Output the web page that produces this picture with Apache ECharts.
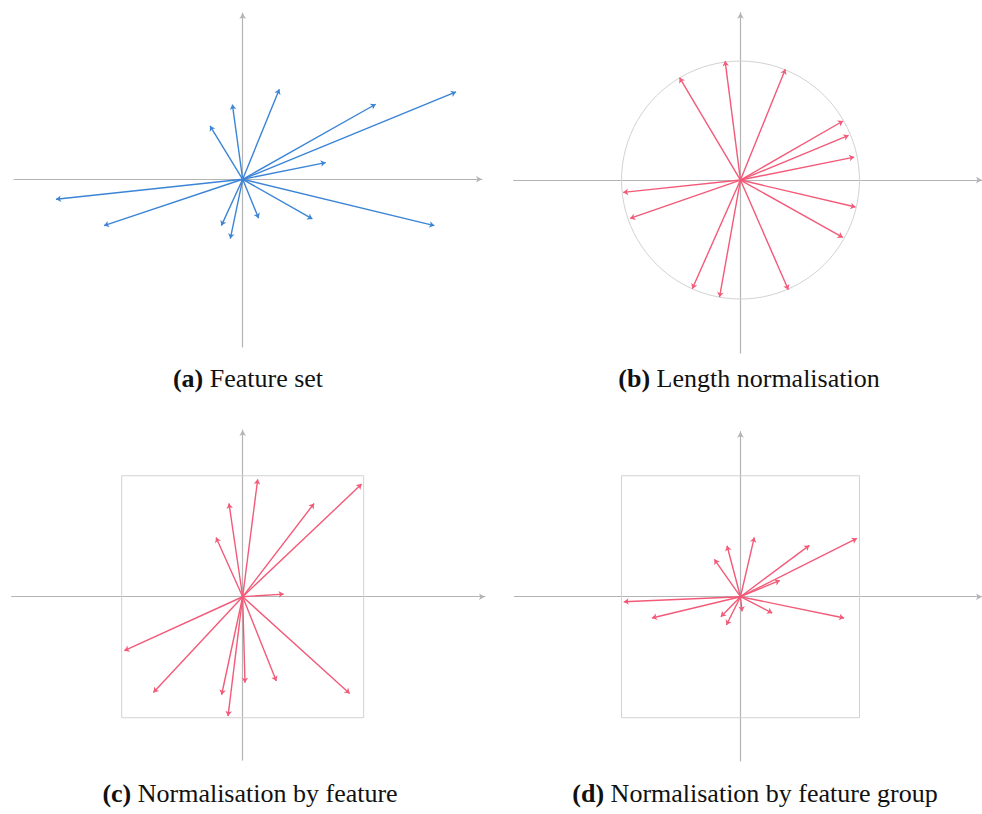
<!DOCTYPE html>
<html>
<head>
<meta charset="utf-8">
<script src="https://cdn.jsdelivr.net/npm/echarts@6/dist/echarts.min.js"></script>
<style>
  html, body { margin: 0; padding: 0; background: #ffffff; }
  #chart { width: 982px; height: 814px; }
</style>
</head>
<body>
<div id="chart"></div>
<script>
// Vector end points (x, y) for each panel; every vector starts at the origin.
const featureSet = [
  [1.763, 0.722], [1.099, 0.620], [0.303, 0.744], [-0.085, 0.617], [-0.270, 0.441],
  [0.686, 0.138], [-1.543, -0.165], [-1.146, -0.383], [-0.176, -0.383], [-0.102, -0.490],
  [0.132, -0.322], [0.576, -0.328], [1.584, -0.383]
];
const lengthNormalised = [
  [0.909, 0.369], [0.862, 0.488], [0.377, 0.915], [-0.129, 0.983], [-0.512, 0.846],
  [0.956, 0.190], [-0.986, -0.102], [-0.928, -0.317], [-0.405, -0.898], [-0.176, -0.967],
  [0.402, -0.906], [0.860, -0.474], [0.967, -0.223]
];
const normalisedByFeature = [
  [0.983, 0.931], [0.590, 0.771], [0.124, 0.970], [-0.113, 0.771], [-0.220, 0.490],
  [0.339, 0.022], [-0.978, -0.446], [-0.738, -0.791], [-0.174, -0.810], [-0.121, -0.986],
  [0.019, -0.711], [0.278, -0.697], [0.884, -0.799]
];
const normalisedByGroup = [
  [0.978, 0.482], [0.579, 0.424], [0.116, 0.490], [-0.113, 0.421], [-0.220, 0.309],
  [0.331, 0.135], [-0.981, -0.041], [-0.744, -0.176], [-0.165, -0.165], [-0.118, -0.234],
  [0.014, -0.121], [0.267, -0.135], [0.871, -0.176]
];
// Reference shapes: unit circle for (b), [-1, 1] square for (c) and (d).
const circleRadius = 1;
const boxHalfSide = 1;

const captionTags = ['(a)', '(b)', '(c)', '(d)'];
const captionTexts = [
  'Feature set',
  'Length normalisation',
  'Normalisation by feature',
  'Normalisation by feature group'
];

// Panel layout (pixels) and axis extents (data units, equal scale on both axes).
const panels = [
  { left: 14,    top: 13,    width: 468,   height: 334,   x: [-1.890, 1.978], y: [-1.386, 1.374], color: '#3b84d6', cap: [248, 378] },
  { left: 513.7, top: 12.7,  width: 476.3, height: 340.4, x: [-1.906, 2.030], y: [-1.430, 1.383], color: '#f25a78', cap: [749, 378] },
  { left: 11.7,  top: 430,   width: 473.2, height: 330.1, x: [-1.909, 2.002], y: [-1.350, 1.378], color: '#f25a78', cap: [250, 793] },
  { left: 514.3, top: 431.7, width: 475.7, height: 329.2, x: [-1.901, 2.030], y: [-1.357, 1.364], color: '#f25a78', cap: [755, 793] }
];
const panelData = [featureSet, lengthNormalised, normalisedByFeature, normalisedByGroup];

const axisLineStyle = { color: '#b4b4b4', width: 1.2 };

const grid = panels.map(p => ({ left: p.left, top: p.top, width: p.width, height: p.height, containLabel: false }));
const xAxis = panels.map((p, i) => ({
  type: 'value', gridIndex: i, min: p.x[0], max: p.x[1],
  axisLine: { show: true, onZero: true, symbol: ['none', 'arrow'], symbolSize: [5, 6], lineStyle: axisLineStyle },
  axisTick: { show: false }, axisLabel: { show: false }, splitLine: { show: false }
}));
const yAxis = panels.map((p, i) => ({
  type: 'value', gridIndex: i, min: p.y[0], max: p.y[1],
  axisLine: { show: true, onZero: true, symbol: ['none', 'arrow'], symbolSize: [5, 6], lineStyle: axisLineStyle },
  axisTick: { show: false }, axisLabel: { show: false }, splitLine: { show: false }
}));

const series = [];

// Unit circle guide in panel (b)
series.push({
  type: 'custom', xAxisIndex: 1, yAxisIndex: 1, silent: true, z: 1,
  data: [[0, 0, circleRadius]],
  renderItem: (params, api) => {
    const c = api.coord([api.value(0), api.value(1)]);
    const r = api.size([api.value(2), api.value(2)])[0];
    return { type: 'circle', shape: { cx: c[0], cy: c[1], r: r },
      style: { fill: 'none', stroke: '#d2d2d2', lineWidth: 1 } };
  }
});

// Square guides in panels (c) and (d)
[2, 3].forEach(i => {
  series.push({
    type: 'custom', xAxisIndex: i, yAxisIndex: i, silent: true, z: 1,
    data: [[-boxHalfSide, boxHalfSide, boxHalfSide, -boxHalfSide]],
    renderItem: (params, api) => {
      const p1 = api.coord([api.value(0), api.value(1)]);
      const p2 = api.coord([api.value(2), api.value(3)]);
      return { type: 'rect', shape: { x: p1[0], y: p1[1], width: p2[0] - p1[0], height: p2[1] - p1[1] },
        style: { fill: 'none', stroke: '#d2d2d2', lineWidth: 1 } };
    }
  });
});

// Vector arrows
panelData.forEach((vecs, i) => {
  series.push({
    type: 'lines', coordinateSystem: 'cartesian2d', xAxisIndex: i, yAxisIndex: i, z: 3,
    symbol: ['none', 'arrow'], symbolSize: 5,
    lineStyle: { color: panels[i].color, width: 1.4, opacity: 1 },
    data: vecs.map(v => ({ coords: [[0, 0], [v[0], v[1]]] }))
  });
});

// Sub-figure captions
const graphic = panels.map((p, i) => ({
  type: 'text', x: p.cap[0], y: p.cap[1], silent: true,
  style: {
    text: '{tag|' + captionTags[i] + '} ' + captionTexts[i],
    align: 'center', verticalAlign: 'middle',
    fontFamily: 'Liberation Serif', fontSize: 26, fill: '#111111',
    rich: { tag: { fontFamily: 'Liberation Serif', fontSize: 26, fontWeight: 'bold', fill: '#111111' } }
  }
}));

const chart = echarts.init(document.getElementById('chart'), null, { renderer: 'svg' });
chart.setOption({ animation: false, backgroundColor: '#ffffff', grid, xAxis, yAxis, series, graphic });
</script>
</body>
</html>
